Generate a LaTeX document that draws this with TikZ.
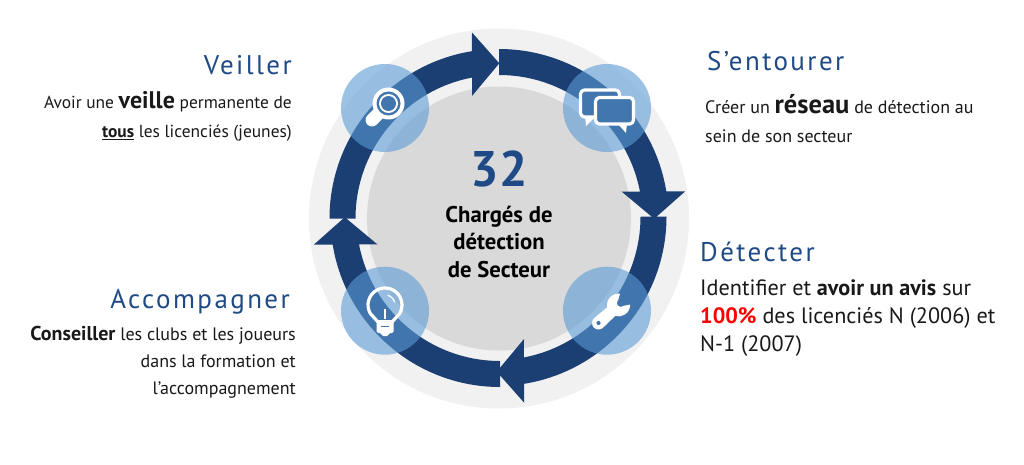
\documentclass[tikz,border=0pt]{standalone}
\usepackage{fontspec}
\setmainfont{PT Sans}
\newfontfamily\headfont[LetterSpace=9]{PT Sans}
\definecolor{navy}{HTML}{1B3E73}
\definecolor{midblue}{HTML}{5B9BD5}
\definecolor{iconblue}{HTML}{4176AE}
\definecolor{titleblue}{HTML}{1F4A86}
\begin{document}
\begin{tikzpicture}[x=1pt,y=-1pt]
    \tikzstyle{badge} = [circle, fill=midblue, fill opacity=0.6, minimum size=88pt, inner sep=0pt];
    \tikzstyle{title} = [inner sep=0pt, text=titleblue, font=\headfont\fontsize{27}{27}\selectfont];
    \tikzstyle{para} = [inner sep=0pt, text=black!90, font=\fontsize{18}{29}\selectfont];
    \tikzstyle{icon} = [draw=white, line width=3.2pt, line join=round];
    \useasboundingbox (0,0) rectangle (1024,465);
    \fill[white] (0,0) rectangle (1024,465);
    \node[circle, fill=black!5.5, minimum size=380pt, inner sep=0pt] (ring) at (499,218.5) {};
    \node[circle, fill=black!15, minimum size=264pt, inner sep=0pt] (core) at (499,218.5) {};
    \foreach \a/\sx/\sy in {0/499/218.5,-90/499/218.5,-180/497/216.5,-270/500/217.5}
        \fill[navy, shift={(\sx,\sy)}, rotate=\a] (180:169.5) arc (180:260.8:169.5) -- (-27,-186) -- (0.3,-155.2) -- (-27,-122.5) -- (259.2:143.5) arc (259.2:180:143.5) -- cycle;
    \node[badge] (veiller) at (385,108) {};
    \node[badge] (entourer) at (607,108) {};
    \node[badge] (conseil) at (385,310.7) {};
    \node[badge] (outil) at (607,310.7) {};
    % loupe
    \draw[white, line width=13pt, line cap=round] (372,120) -- (385,107);
    \fill[white] (388.5,103.5) circle (16);
    \fill[iconblue] (388.5,103.5) circle (12);
    \fill[white] (388.5,103.5) circle (9.5);
    \fill[iconblue] (388.5,103.5) circle (7.5);
    % bulles
    \fill[white] (585,116) -- (586,126) -- (596,116) -- cycle;
    \draw[icon, fill=iconblue, rounded corners=4pt] (580.5,90) rectangle (619.5,117);
    \fill[white] (617,123) -- (626,133) -- (627,123) -- cycle;
    \draw[icon, fill=iconblue, rounded corners=4pt] (595.5,97.5) rectangle (633.5,124);
    % ampoule
    \draw[icon] (370.3,313.5) arc (150:390:17) -- (392,322) -- (378,322) -- cycle;
    \draw[white, line width=1.2pt] (387.6,295.3) arc (285:345:10);
    \draw[white, line width=2pt] (385,319) -- (385,309);
    \fill[white, rounded corners=1.5pt] (376.5,320) rectangle (393.5,333);
    \fill[white] (380,333) -- (390,333) -- (387,336) -- (383,336) -- cycle;
    \draw[iconblue, line width=1.6pt] (381,326.5) -- (389,326.5);
    % clef
    \begin{scope}[shift={(598.5,323)}, rotate=42]
        \fill[white, even odd rule] (0,-6.5) -- (17.14,-5.92) arc (211:320:11.5) -- (30,-4) arc (270:90:4) -- (35.81,7.39) arc (40:149:11.5) -- (0,6.5) arc (90:270:6.5) -- cycle (0,0) circle (2.2);
    \end{scope}
    % textes
    \node[title, anchor=base east] (t1) at (292,75) {Veiller};
    \node[para, anchor=base east, align=right, font=\fontsize{17.4}{29}\selectfont] (p1) at (292,138) {Avoir une {\bfseries\fontsize{24}{29}\selectfont veille} permanente de\\\underline{\bfseries tous} les licenciés (jeunes)};
    \node[title, anchor=base west] (t2) at (707,71) {S’entourer};
    \node[para, anchor=base west, align=left] (p2) at (705,143) {Créer un {\bfseries\fontsize{26.5}{29}\selectfont réseau} de détection au\\sein de son secteur};
    \node[title, anchor=base west] (t3) at (700,261) {Détecter};
    \node[para, anchor=base west, align=left, font=\fontsize{22.2}{28}\selectfont] (p3) at (700,351) {Identifier et {\bfseries avoir un avis} sur\\{\bfseries\color{red}100\%} des licenciés N (2006) et\\N-1 (2007)};
    \node[title, anchor=base east] (t4) at (290,308) {Accompagner};
    \node[para, anchor=base east, align=right, font=\fontsize{18}{27}\selectfont] (p4) at (296,394) {{\bfseries\fontsize{20}{27}\selectfont Conseiller} les clubs et les joueurs\\dans la formation et\\l’accompagnement};
    \node[inner sep=0pt, anchor=base, text=titleblue, font=\bfseries\fontsize{50}{50}\selectfont] (nb) at (499,186) {32};
    \node[inner sep=0pt, anchor=base, align=center, font=\bfseries\fontsize{22.7}{27.5}\selectfont] (lbl) at (499,277) {Chargés de\\détection\\de Secteur};
\end{tikzpicture}
\end{document}
